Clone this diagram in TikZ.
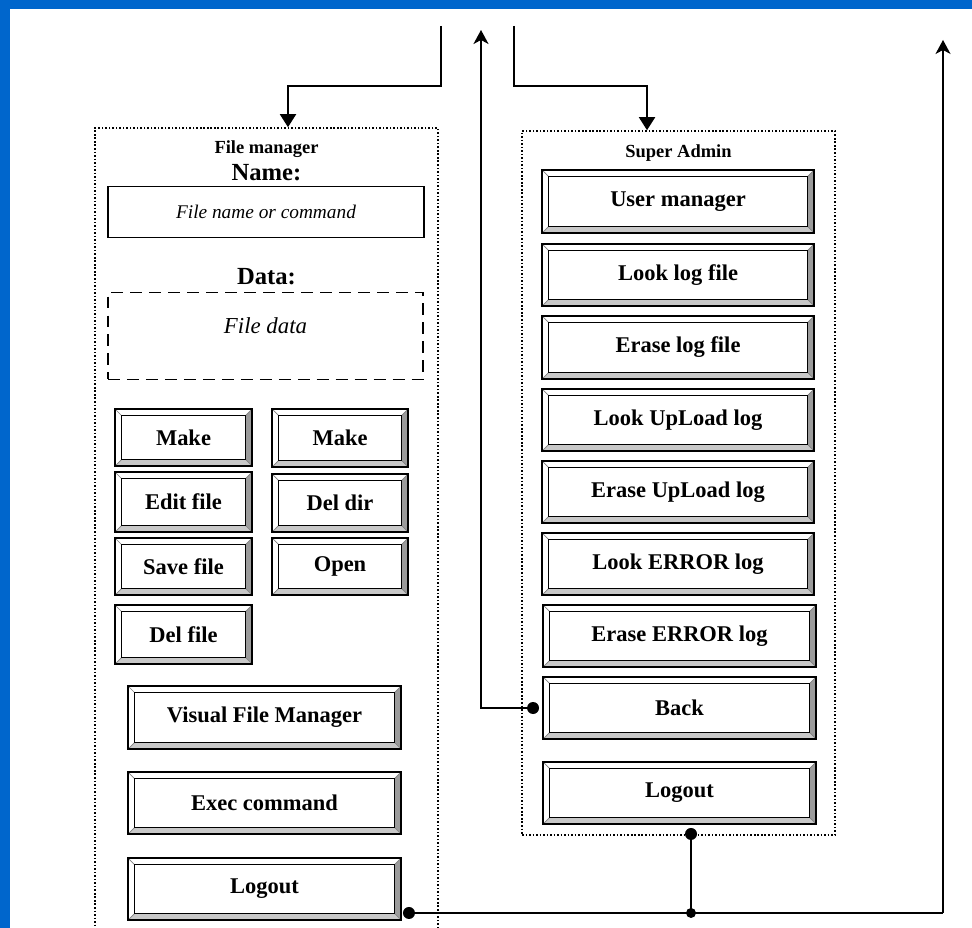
\documentclass[tikz,border=0pt]{standalone}
\usepackage{fontspec}
\setmainfont{Liberation Serif}
\usetikzlibrary{arrows.meta,calc}
\definecolor{bgblue}{RGB}{0,102,204}
\definecolor{bevdark}{RGB}{155,155,155}
\definecolor{bevmid}{RGB}{200,200,200}
\newcommand\bv{0.13cm}
\newcommand\ppb{path picture bounding box}
\tikzset{
  btn/.style={draw=black, line width=1.1pt, inner sep=0pt,
    font=\fontsize{12.8}{14}\selectfont\bfseries,
    path picture={
      \fill[white] (\ppb.north west) rectangle (\ppb.south east);
      \fill[bevmid] (\ppb.south west) -- (\ppb.south east)
        -- ([shift={(-\bv,\bv)}]\ppb.south east) -- ([shift={(\bv,\bv)}]\ppb.south west) -- cycle;
      \fill[bevdark] (\ppb.north east) -- (\ppb.south east)
        -- ([shift={(-\bv,\bv)}]\ppb.south east) -- ([shift={(-\bv,-\bv)}]\ppb.north east) -- cycle;
      \draw[gray, line width=0.4pt] (\ppb.north west) -- ([shift={(\bv,-\bv)}]\ppb.north west)
        (\ppb.north east) -- ([shift={(-\bv,-\bv)}]\ppb.north east)
        (\ppb.south west) -- ([shift={(\bv,\bv)}]\ppb.south west)
        (\ppb.south east) -- ([shift={(-\bv,\bv)}]\ppb.south east);
      \draw[black, line width=1.1pt, fill=white] ([shift={(\bv,-\bv)}]\ppb.north west)
        rectangle ([shift={(-\bv,\bv)}]\ppb.south east);
    }},
  dotbox/.style={draw=black, line width=0.9pt, dash pattern=on 0.9pt off 1.1pt, inner sep=0pt},
  conn/.style={draw=black, line width=1.1pt},
  thinconn/.style={draw=black, line width=0.7pt},
  jdot/.style={fill=black},
  title/.style={font=\fontsize{10.5}{12}\selectfont\bfseries},
  lbl/.style={font=\fontsize{14}{16}\selectfont\bfseries},
}
\newcommand\mkbtn[6]{\node[btn, minimum width={(#4-#2)*0.02cm}, minimum height={(#5-#3)*0.02cm}] (#1) at ({(#2+#4)/2},{(#3+#5)/2}) {#6};}
\begin{document}
\begin{tikzpicture}[x=0.02cm,y=-0.02cm]
\useasboundingbox (0,0) rectangle (972,928);
\clip (0,0) rectangle (972,928);
\fill[bgblue] (0,0) rectangle (972,928);
\fill[white] (10,9) rectangle (980,940);

% containers
\node[dotbox, minimum width={343*0.02cm}, minimum height={812*0.02cm}] (fm) at (266.5,534) {};
\node[dotbox, minimum width={313*0.02cm}, minimum height={704*0.02cm}] (sa) at (678.5,483) {};

% file manager content
\node[title] (fmt) at (266.5,149) {File manager};
\node[lbl] (namel) at (266.5,173) {Name:};
\node[draw=black, line width=1.1pt, minimum width={316*0.02cm}, minimum height={51*0.02cm},
      font=\fontsize{11}{13}\selectfont\itshape] (namebox) at (266,212) {File name or command};
\node[lbl] (datal) at (266.5,277) {Data:};
\node[draw=black, line width=1.1pt, dash pattern=on 6.8pt off 4pt, minimum width={315*0.02cm},
      minimum height={87*0.02cm}] (databox) at (265.5,336) {};
\node[font=\fontsize{13}{15}\selectfont\itshape] (datat) at (265.5,326) {File data};

\mkbtn{make1}{115}{409}{252}{466}{Make}
\mkbtn{make2}{272}{409}{408}{467}{Make}
\mkbtn{edit}{115}{472}{252}{532}{Edit file}
\mkbtn{deldir}{272}{474}{408}{532}{Del dir}
\mkbtn{save}{115}{538}{252}{595}{Save file}
\mkbtn{open}{272}{538}{408}{595}{Open}
\mkbtn{delfile}{115}{605}{252}{664}{Del file}
\mkbtn{vfm}{128}{686}{401}{749}{Visual File Manager}
\mkbtn{exec}{128}{772}{401}{834}{Exec command}
\mkbtn{lo1}{128}{858}{401}{920}{Logout}

% super admin content
\node[title] (sat) at (678.5,153) {Super Admin};
\mkbtn{um}{542}{170}{814}{233}{User manager}
\mkbtn{llf}{542}{244}{814}{306}{Look log file}
\mkbtn{elf}{542}{316}{814}{379}{Erase log file}
\mkbtn{lul}{542}{389}{814}{451}{Look UpLoad log}
\mkbtn{eul}{542}{461}{814}{523}{Erase UpLoad log}
\mkbtn{lel}{542}{533}{814}{595}{Look ERROR log}
\mkbtn{eel}{543}{605}{816}{667}{Erase ERROR log}
\mkbtn{back}{543}{677}{816}{739}{Back}
\mkbtn{lo2}{543}{762}{816}{824}{Logout}

% connectors
\coordinate (topL) at (441,26);
\coordinate (topR) at (514,26);
\coordinate (upM) at (481,30);
\coordinate (upR) at (943,40);
\coordinate (jL) at ([shift={(0.14cm,0.16cm)}]lo1.south east);
\coordinate (jS) at ([shift={(0.23cm,-0.18cm)}]lo2.south);
\coordinate (jB) at (jS |- jL);
\coordinate (jBack) at ([xshift=-0.18cm]back.west);
\coordinate (jR) at (jL -| upR);

\draw[conn,-{Triangle[length=0.26cm,width=0.32cm]}] (topL) |- ([xshift=0.43cm,yshift=0.82cm]fm.north) -- ([xshift=0.43cm]fm.north);
\draw[conn,-{Triangle[length=0.26cm,width=0.32cm]}] (topR) |- ([xshift=-0.63cm,yshift=0.88cm]sa.north) -- ([xshift=-0.63cm]sa.north);
\draw[conn,-{Stealth[length=0.28cm,width=0.3cm,inset=0.08cm]}] (jBack) -| (upM);
\draw[conn] (jL) -- (jR);
\draw[thinconn,-{Stealth[length=0.28cm,width=0.3cm,inset=0.08cm]}] (jR) -- (upR);
\draw[conn] (jS) -- (jB);
\fill[jdot] (jL) circle (0.12cm);
\fill[jdot] (jS) circle (0.12cm);
\fill[jdot] (jB) circle (0.1cm);
\fill[jdot] (jBack) circle (0.12cm);
\end{tikzpicture}
\end{document}
